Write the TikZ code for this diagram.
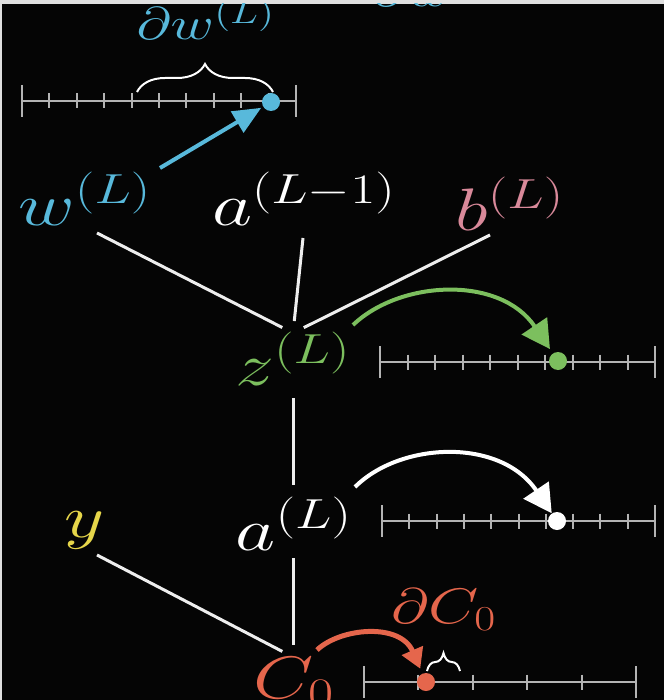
\RequirePackage{fix-cm}
\documentclass[tikz,border=0pt]{standalone}
\usepackage{amsmath}
\usepackage{graphicx}
\usepackage{xcolor}
\usetikzlibrary{arrows.meta,decorations.pathreplacing}
\definecolor{frameGrey}{HTML}{E0E0E0}
\definecolor{screenBlack}{HTML}{050505}
\definecolor{wBlue}{HTML}{58B9DB}
\definecolor{zGreen}{HTML}{7CBF5E}
\definecolor{bPink}{HTML}{D9899A}
\definecolor{yYellow}{HTML}{E6D64A}
\definecolor{cRed}{HTML}{E5664C}
\definecolor{axisGrey}{HTML}{B4B4B4}
\definecolor{edgeWhite}{HTML}{EEEEEE}
\newcommand{\wideLbl}[1]{\scalebox{1.3}[1]{#1}}

\begin{document}
\begin{tikzpicture}[
  x=0.5pt, y=-0.5pt,
  font=\fontsize{30}{36}\selectfont,
  lbl/.style={anchor=base, inner sep=0pt},
  small/.style={font=\fontsize{23}{28}\selectfont},
  edge/.style={draw=edgeWhite, line width=1.5pt, shorten >=6pt},
  axis/.style={draw=axisGrey, line width=1pt},
  dot/.style={circle, inner sep=0pt, minimum size=9pt},
  brc/.style={draw=white, line width=1pt, decorate, decoration={brace, amplitude=#1}},
  nudge/.style={line width=2pt, -{Triangle[length=14pt, width=15pt]}}
]
% screen
\fill[frameGrey] (0,0) rectangle (664,700);
\fill[screenBlack] (2,4) rectangle (664,700);
\useasboundingbox (0,0) rectangle (664,700);
\clip (2,4) rectangle (664,700);

\node[lbl, small, text=wBlue] (dwtop) at (412,7) {\wideLbl{$\partial w$}};

% number lines: left end / right end / height / intervals
\foreach \xa/\xb/\yy/\n in {22/296/101/10, 380/655/362/10, 382/655/521/10, 364/636/682/5} {
  \pgfmathtruncatemacro\m{\n-1}
  \draw[axis] (\xa,\yy) -- (\xb,\yy);
  \draw[axis] (\xa,\yy-16) -- (\xa,\yy+16) (\xb,\yy-16) -- (\xb,\yy+16);
  \foreach \i in {1,...,\m}
    \draw[axis] ({\xa+(\xb-\xa)*\i/\n},\yy-7.5) -- ++(0,15);
}

\node[dot, fill=wBlue] (wdot) at (271,102) {};
\node[dot, fill=zGreen] (zdot) at (558,361) {};
\node[dot, fill=white] (adot) at (557,521) {};
\node[dot, fill=cRed] (Cdot) at (426,682) {};

\draw[brc=14pt] (137,92) -- (273,92);
\draw[brc=9pt, decoration={aspect=0.5}] (427,671) -- (460,671);

% labels
\node[lbl, small, text=wBlue] (dw) at (206,40) {\wideLbl{$\partial w^{(L)}$}};
\node[lbl, text=wBlue] (w) at (85,225) {\wideLbl{$w^{(L)}$}};
\node[lbl, text=white] (aprev) at (304,225) {\wideLbl{$a^{(L-1)}$}};
\node[lbl, text=bPink] (b) at (510,230) {\wideLbl{$b^{(L)}$}};
\node[lbl, text=zGreen] (z) at (293,385) {\wideLbl{$z^{(L)}$}};
\node[lbl, text=white] (a) at (294,550) {\wideLbl{$a^{(L)}$}};
\node[lbl, text=yYellow] (y) at (85,537) {\wideLbl{$y$}};
\node[lbl, text=cRed] (C) at (294,698) {\wideLbl{$C_0$}};
\node[lbl, font=\fontsize{25}{30}\selectfont, text=cRed] (dC) at (444,623) {\wideLbl{$\partial C_0$}};

% line ends
\coordinate (wout) at (97,233);
\coordinate (aprevout) at (303,238);
\coordinate (bout) at (490,235);
\coordinate (zin) at (293,333);
\coordinate (zout) at (293,398);
\coordinate (ain) at (293,497);
\coordinate (aout) at (293,558);
\coordinate (yout) at (97,555);
\coordinate (Cin) at (293,657);

\draw[edge] (wout) -- (zin);
\draw[edge] (aprevout) -- (zin);
\draw[edge] (bout) -- (zin);
\draw[edge] (zout) -- (ain);
\draw[edge] (aout) -- (Cin);
\draw[edge] (yout) -- (Cin);

% nudges
\coordinate (wpush) at (160,168);
\coordinate (zpush) at (353,325);
\coordinate (apush) at (355,487);
\coordinate (Cpush) at (317,650);
\draw[wBlue, line width=2pt, -{Triangle[length=14pt, width=12pt]}, shorten >=1pt] (wpush) -- (wdot);
\draw[nudge, zGreen, shorten >=2.5pt] (zpush) .. controls (400,280) and (500,275) .. (zdot);
\draw[nudge, white] (apush) .. controls (400,442) and (500,437) .. (adot);
\draw[cRed, line width=2.5pt, -{Triangle[length=10pt, width=11pt]}, shorten >=2.5pt]
  (Cpush) .. controls (340,628) and (400,622) .. (Cdot);
\end{tikzpicture}
\end{document}
